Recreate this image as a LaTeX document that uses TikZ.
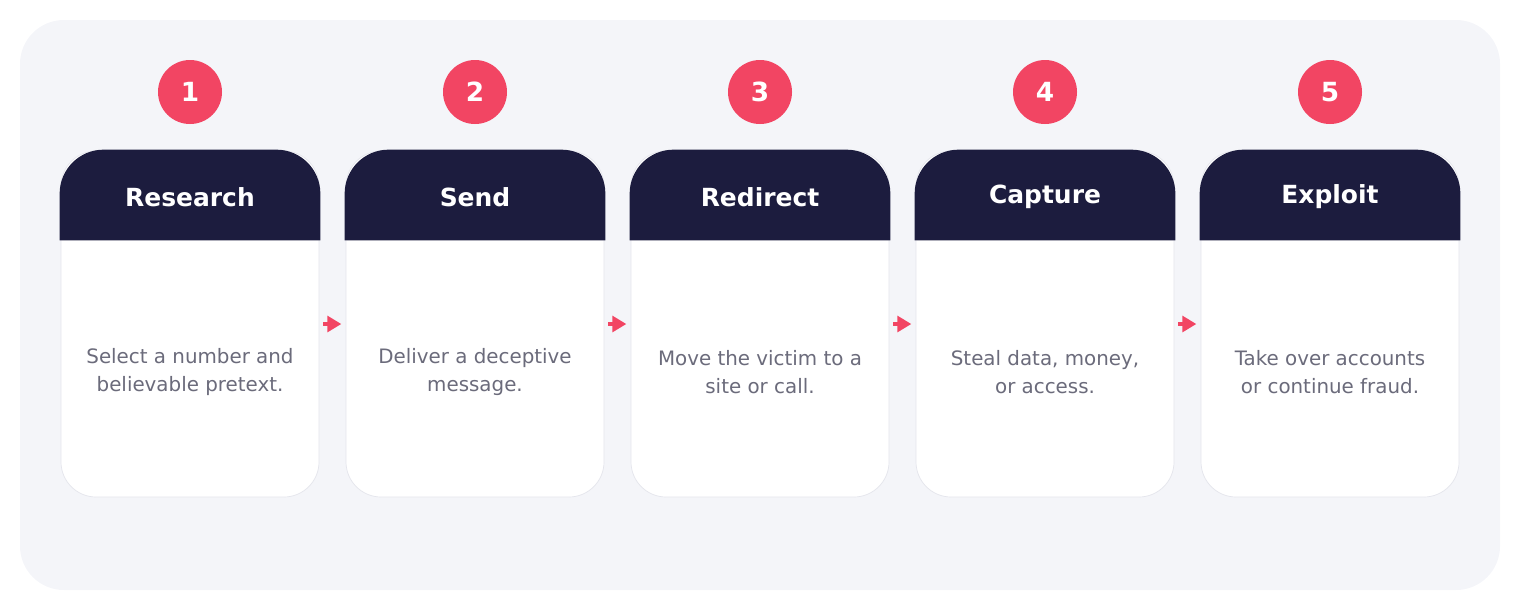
\documentclass[tikz,border=0pt]{standalone}
\usepackage{fontspec}
\setmainfont{DejaVu Sans}
\usetikzlibrary{positioning,arrows.meta}
\definecolor{bgpanel}{HTML}{F4F5F9}
\definecolor{navy}{HTML}{1C1C3E}
\definecolor{accent}{HTML}{F24563}
\definecolor{bodytext}{HTML}{6B6B7B}
\definecolor{cardline}{HTML}{E4E5EC}
\tikzset{
	card/.style={draw=cardline, fill=white, rounded corners=20, minimum width=258*0.02cm, minimum height=346*0.02cm, inner sep=0pt},
	head/.style={minimum width=260*0.02cm, minimum height=90*0.02cm, inner sep=0pt, text=white, font=\fontsize{14.2}{16}\selectfont\bfseries},
	num/.style={circle, fill=accent, minimum size=64*0.02cm, inner sep=0pt, text=white, font=\fontsize{15}{18}\selectfont\bfseries},
	desc/.style={align=center, text=bodytext, font=\fontsize{11.3}{16}\selectfont},
	flow/.style={-{Triangle[length=8pt,width=9pt]}, accent, line width=2pt}
}
\begin{document}
\begin{tikzpicture}[x=0.02cm, y=-0.02cm]
		\useasboundingbox (0, 0) rectangle (1520, 610);
		% Panel
		\fill[bgpanel, rounded corners=25] (20, 20) rectangle (1500, 590);
		
		% Cards
		\foreach \i/\title/\text in {1/Research/{Select a number and\\believable pretext.}, 2/Send/{Deliver a deceptive\\message.}, 3/Redirect/{Move the victim to a\\site or call.}, 4/Capture/{Steal data, money,\\or access.}, 5/Exploit/{Take over accounts\\or continue fraud.}} {
			\node[card] (card\i) at (190+285*\i-285, 324) {};
			\node[head] (head\i) at (190+285*\i-285, 195) {};
			\fill[navy] (head\i.south west) [rounded corners=25] -- (head\i.north west) -- (head\i.north east) [sharp corners] -- (head\i.south east) -- cycle;
			\node[head] at (190+285*\i-285, 197) {\title};
			\node[desc] (desc\i) at (190+285*\i-285, 372) {\text};
			\node[num] (num\i) at (190+285*\i-285, 92) {\i};
		}
		
		% Arrows
		\foreach \i in {1, 2, 3, 4} {
			\draw[flow] ([xshift=4*0.02cm]card\i.east) -- ++(18, 0);
		}
	\end{tikzpicture}
\end{document}
